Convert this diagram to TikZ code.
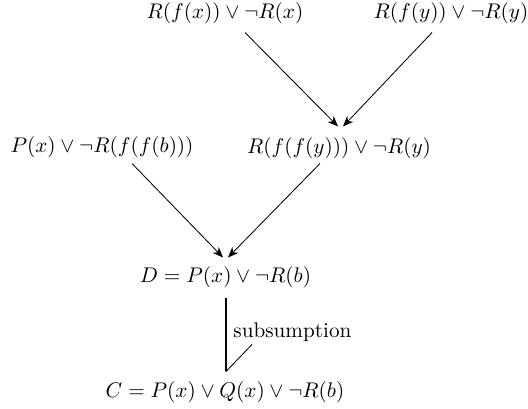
\documentclass[tikz,border=0pt]{standalone}
\usetikzlibrary{arrows.meta,calc}
\begin{document}
\begin{tikzpicture}[
  x=0.4717pt,y=-0.4717pt,
  clause/.style={inner sep=0pt},
  >={Stealth[length=5pt,width=4pt]}]
\useasboundingbox (0,0) rectangle (528,408);
% clauses
\node[clause] (rfx) at (225,13) {$R(f(x)) \vee \neg R(x)$};
\node[clause] (rfy) at (451,13) {$R(f(y)) \vee \neg R(y)$};
\node[clause] (pfb) at (102,147) {$P(x) \vee \neg R(f(f(b)))$};
\node[clause] (rffy) at (339,148) {$R(f(f(y))) \vee \neg R(y)$};
\node[clause] (d) at (225.5,277) {$D = P(x) \vee \neg R(b)$};
\node[clause] (c) at (225,392) {$C = P(x) \vee Q(x) \vee \neg R(b)$};
% resolution steps
\draw[->] ($(rfx.south)+(20,8.5)$) -- ($(rffy.north)+(-1,-10.5)$);
\draw[->] ($(rfy.south)+(-19,8.5)$) -- ($(rffy.north)+(4,-10.5)$);
\draw[->] ($(pfb.south)+(30,5.5)$) -- ($(d.north)+(-2.5,-8.5)$);
\draw[->] ($(rffy.south)+(-19,4.5)$) -- ($(d.north)+(2.5,-8.5)$);
% subsumption
\draw[thick] ($(d.south)+(0.5,10)$) -- coordinate[pos=1] (hook) ($(c.north)+(1,-9.5)$);
\draw (hook) -- ++(26,-27);
\node[anchor=west,inner sep=0pt] (sub) at ($(hook)+(7,-39)$) {subsumption};
\end{tikzpicture}
\end{document}
